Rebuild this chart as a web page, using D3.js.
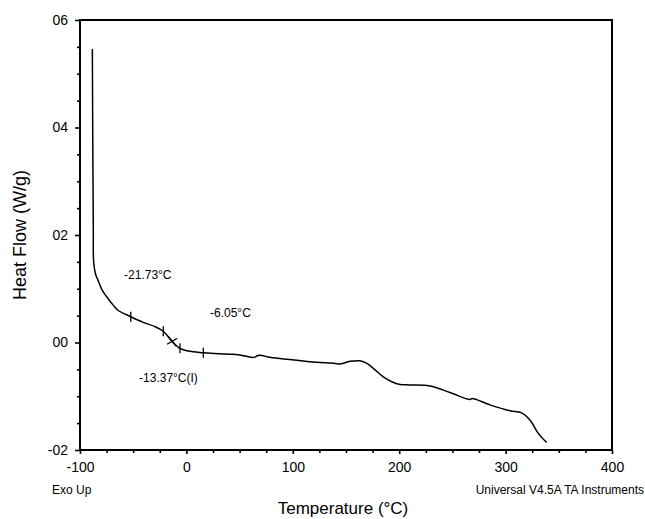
<!DOCTYPE html>
<html>
<head>
<meta charset="utf-8">
<script src="https://cdn.jsdelivr.net/npm/d3@7"></script>
<style>
  html, body { margin: 0; padding: 0; background: #fff; }
  svg { display: block; font-family: "Liberation Sans", Arial, sans-serif; }
</style>
</head>
<body>
<svg id="chart" width="645" height="519"></svg>
<script>
// ---- Data ----
const temperature = [-88.4, -87.5, -87.1, -85.2, -83.1, -79.3, -74.9, -69.0, -64.3, -52.3, -40.0, -30.0,
  -21.7, -13.8, -6.0, 2.0, 15.9, 30.0, 43.8, 55.0, 62.6, 64.5, 67.3, 71.0, 76.7, 94.3, 116.2,
  139.7, 144.0, 153.8, 163.0, 168.8, 175.7, 185.1, 193.0, 200.8, 210.2, 228.9, 247.7, 266.5, 268.5, 285.3,
  304.1, 315.1, 322.9, 330.7, 338.6];
const heatFlow = [0.546, 0.209, 0.148, 0.126, 0.116, 0.098, 0.085, 0.070, 0.060, 0.048, 0.037, 0.030,
  0.021, 0.003, -0.011, -0.016, -0.019, -0.021, -0.022, -0.025, -0.028, -0.027, -0.024, -0.024, -0.027, -0.031, -0.036,
  -0.039, -0.040, -0.035, -0.034, -0.038, -0.048, -0.064, -0.073, -0.078, -0.079, -0.081, -0.093, -0.106, -0.104, -0.116,
  -0.127, -0.131, -0.144, -0.169, -0.186];
// transition analysis marks
const markTemps = [-52.3, -21.73, -6.05, 15.9];
const inflectionTemp = -13.37;
const annotations = [
  { text: "-21.73°C", t: -58.6, hf: 0.118 },
  { text: "-6.05°C", t: 22.2, hf: 0.0474 },
  { text: "-13.37°C(I)", t: -44.5, hf: -0.0735 }
];
const xTickValues = [-100, 0, 100, 200, 300, 400];
const xTickLabels = ["-100", "0", "100", "200", "300", "400"];
const yTickValues = [0.6, 0.4, 0.2, 0.0, -0.2];
const yTickLabels = ["06", "04", "02", "00", "-02"];

// ---- Layout ----
const svg = d3.select("#chart");
const pLeft = 80, pRight = 612, pTop = 20, pBottom = 450;
const x = d3.scaleLinear().domain([-100, 400]).range([pLeft, pRight]);
const y = d3.scaleLinear().domain([-0.2, 0.6]).range([pBottom, pTop]);

const hfAt = t => {
  for (let i = 0; i < temperature.length - 1; i++) {
    if (t >= temperature[i] && t <= temperature[i + 1]) {
      const f = (t - temperature[i]) / (temperature[i + 1] - temperature[i]);
      return heatFlow[i] + f * (heatFlow[i + 1] - heatFlow[i]);
    }
  }
  return heatFlow[heatFlow.length - 1];
};

// frame
svg.append("rect").attr("x", pLeft).attr("y", pTop).attr("width", pRight - pLeft).attr("height", pBottom - pTop)
  .attr("fill", "none").attr("stroke", "#000").attr("stroke-width", 2);

// x axis
const xAxis = d3.axisBottom(x).tickValues(xTickValues).tickSize(4).tickSizeOuter(0).tickPadding(8)
  .tickFormat((d, i) => xTickLabels[i]);
const gx = svg.append("g").attr("transform", `translate(0,${pBottom})`).call(xAxis);
const xMinor = d3.axisBottom(x).tickValues(d3.range(-100, 401, 25).filter(v => !xTickValues.includes(v)))
  .tickSize(3).tickFormat("").tickSizeOuter(0);
const gxm = svg.append("g").attr("transform", `translate(0,${pBottom})`).call(xMinor);

// y axis
const yAxis = d3.axisLeft(y).tickValues(yTickValues).tickSize(5).tickSizeOuter(0).tickPadding(7)
  .tickFormat((d, i) => yTickLabels[i]);
const gy = svg.append("g").attr("transform", `translate(${pLeft},0)`).call(yAxis);
const yMinor = d3.axisLeft(y).tickValues([0.55, 0.5, 0.45, 0.35, 0.3, 0.25, 0.15, 0.1, 0.05, -0.05, -0.1, -0.15])
  .tickSize(3).tickFormat("").tickSizeOuter(0);
const gym = svg.append("g").attr("transform", `translate(${pLeft},0)`).call(yMinor);

[gx, gxm, gy, gym].forEach(g => {
  g.select(".domain").remove();
  g.selectAll("line").attr("stroke", "#000").attr("stroke-width", 1.6);
  g.selectAll("text").attr("fill", "#000").style("font-size", "14px")
    .style("font-family", "'Liberation Sans', Arial, sans-serif");
});

// curve
const line = d3.line().x((d, i) => x(temperature[i])).y((d, i) => y(heatFlow[i])).curve(d3.curveCatmullRom.alpha(0.5));
svg.append("path").datum(heatFlow).attr("d", line).attr("fill", "none").attr("stroke", "#000").attr("stroke-width", 1.5);

// marks
svg.selectAll("line.mark").data(markTemps).enter().append("line").attr("class", "mark")
  .attr("x1", d => x(d)).attr("x2", d => x(d))
  .attr("y1", d => y(hfAt(d)) - 5).attr("y2", d => y(hfAt(d)) + 5)
  .attr("stroke", "#000").attr("stroke-width", 1.3);
const ix = x(inflectionTemp), iy = y(hfAt(inflectionTemp));
svg.append("line").attr("x1", ix - 4).attr("y1", iy - 5).attr("x2", ix + 4).attr("y2", iy + 5)
  .attr("stroke", "#000").attr("stroke-width", 1.3);
svg.append("line").attr("x1", ix - 5).attr("y1", iy + 3).attr("x2", ix + 5).attr("y2", iy - 3)
  .attr("stroke", "#000").attr("stroke-width", 1.3);

// annotations
svg.selectAll("text.ann").data(annotations).enter().append("text").attr("class", "ann")
  .attr("x", d => x(d.t)).attr("y", d => y(d.hf))
  .style("font-size", "12px").attr("fill", "#000").text(d => d.text);

// titles
svg.append("text").attr("transform", `translate(26,${(pTop + pBottom) / 2}) rotate(-90)`)
  .attr("text-anchor", "middle").style("font-size", "18px").text("Heat Flow (W/g)");
svg.append("text").attr("x", 343).attr("y", 514).attr("text-anchor", "middle")
  .style("font-size", "17px").text("Temperature (°C)");
svg.append("text").attr("x", 52).attr("y", 494).style("font-size", "12px").text("Exo Up");
svg.append("text").attr("x", 644).attr("y", 494).attr("text-anchor", "end")
  .style("font-size", "12px").text("Universal V4.5A TA Instruments");
</script>
</body>
</html>
